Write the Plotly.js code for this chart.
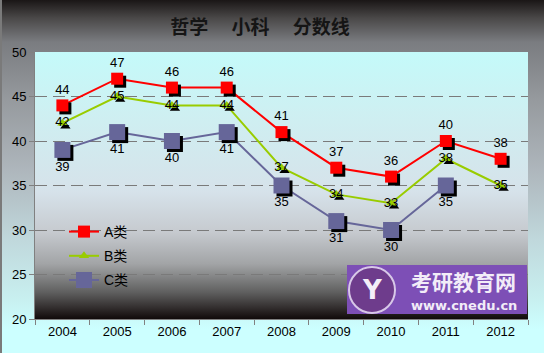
<!DOCTYPE html>
<html><head><meta charset="utf-8">
<script src="https://cdn.plot.ly/plotly-3.0.1.min.js"></script>
<style>
html,body{margin:0;padding:0;}
#wrap{position:relative;width:544px;height:353px;overflow:hidden;
 background:linear-gradient(to bottom,#1a1616 0px,#4a4848 18px,#7a7c80 42px,#969a9e 100px,#aeb6bc 170px,#c0d8dc 240px,#c8f0f0 300px,#ccffff 330px,#ccffff 353px);}
#wrap:before{content:"";position:absolute;left:0;top:0;width:2px;height:353px;background:#7a7a7a;}
#pbg{position:absolute;left:35px;top:52px;width:493px;height:267px;
 background:linear-gradient(to bottom,#c4fafa 0px,#cef0f2 60px,#d6e2ea 140px,#c6cacf 180px,#a2a4a6 212px,#606060 240px,#201a1a 262px,#100a0a 267px);}
#chart{position:absolute;left:0;top:0;width:544px;height:353px;}
#chart .scatterlayer .points path{filter:drop-shadow(3px 3px 0 #000);}
</style></head>
<body>
<div id="wrap"><div id="pbg"></div><div id="chart"></div></div>
<script>
const years = ['2004','2005','2006','2007','2008','2009','2010','2011','2012'];
const seriesA = [44,47,46,46,41,37,36,40,38];
const seriesB = [42,45,44,44,37,34,33,38,35];
const seriesC = [39,41,40,41,35,31,30,35,null];
const names = ['A类','B类','C类'];

const numFont = {family:'Liberation Sans, Arial, sans-serif', size:13, color:'#000'};
const traces = [
 {x:years,y:seriesA,name:names[0],legendgroup:'a',type:'scatter',mode:'lines+markers+text',
  line:{color:'#ff0000',width:2},marker:{symbol:'square',size:12,color:'#ff0000'},
  text:seriesA.map(String),textposition:'top center',textfont:numFont,cliponaxis:false},
 {x:years,y:seriesB,name:names[1],legendgroup:'b',type:'scatter',mode:'lines+markers+text',
  line:{color:'#99cc00',width:2},marker:{symbol:'triangle-up',size:9,color:'#99cc00'},
  text:seriesB.map(String),textposition:'middle center',textfont:numFont,cliponaxis:false},
 {x:years,y:seriesC,name:names[2],legendgroup:'c',type:'scatter',mode:'lines+markers+text',
  line:{color:'#666699',width:2},marker:{symbol:'square',size:16,color:'#666699'},
  text:seriesC.map(v=>v==null?'':String(v)),textposition:'bottom center',textfont:numFont,cliponaxis:false}
];

const W=544,H=353,L=35,R=16,T=52,B=34;
const pw=W-L-R, ph=H-T-B;
const px = x => (x-L)/pw;
const py = y => (H-B-y)/ph;

const layout = {
 width:W,height:H,
 margin:{l:L,r:R,t:T,b:B},
 paper_bgcolor:'rgba(0,0,0,0)',plot_bgcolor:'rgba(0,0,0,0)',
 title:{text:'<b>哲学\u3000 小科\u3000 分数线</b>',font:{family:'Noto Sans CJK SC, sans-serif',size:19,color:'#151515'},
  x:260/W,xref:'container',xanchor:'center',y:1-27/H,yanchor:'middle',yref:'container'},
 xaxis:{type:'category',range:[-0.5,8.5],tickson:'boundaries',ticks:'outside',ticklen:5,tickcolor:'#808080',
  showline:true,linecolor:'#808080',linewidth:1,showgrid:false,zeroline:false,
  tickfont:numFont,fixedrange:true},
 yaxis:{range:[20,50],dtick:5,ticks:'outside',ticklen:5,tickcolor:'#808080',
  showline:true,linecolor:'#808080',linewidth:1,showgrid:true,gridcolor:'#7a7a7a',griddash:'12px,6px',gridwidth:1,
  zeroline:false,tickfont:numFont,fixedrange:true},
 showlegend:true,
 legend:{x:px(64),y:py(216),xanchor:'left',yanchor:'top',bgcolor:'rgba(0,0,0,0)',
  font:{family:'Liberation Sans, Noto Sans CJK SC, sans-serif',size:14,color:'#000'},tracegroupgap:3,itemwidth:30},
 shapes:[
  {type:'rect',xref:'paper',yref:'paper',x0:px(347),x1:px(527),y0:py(314),y1:py(265),
   fillcolor:'#7d4fb6',line:{width:0},layer:'above'},
  {type:'circle',xref:'paper',yref:'paper',x0:px(349),x1:px(395),y0:py(313),y1:py(267),
   fillcolor:'#6e3c8c',line:{color:'#d8c8e8',width:2},layer:'above'}
 ],
 annotations:[
  {xref:'paper',yref:'paper',x:px(372),y:py(290),text:'<b>Y</b>',showarrow:false,
   font:{family:'DejaVu Sans, sans-serif',size:26,color:'#f4eef8'},xanchor:'center',yanchor:'middle'},
  {xref:'paper',yref:'paper',x:px(463),y:py(281),text:'<b>考研教育网</b>',showarrow:false,
   font:{family:'Noto Sans CJK SC, sans-serif',size:21,color:'#f2ecf8'},xanchor:'center',yanchor:'middle'},
  {xref:'paper',yref:'paper',x:px(464),y:py(305),text:'<b>www.cnedu.cn</b>',showarrow:false,
   font:{family:'DejaVu Sans, sans-serif',size:13,color:'#f2ecf8'},xanchor:'center',yanchor:'middle'}
 ]
};
Plotly.newPlot('chart',traces,layout,{displayModeBar:false,staticPlot:true});
</script>
</body></html>
